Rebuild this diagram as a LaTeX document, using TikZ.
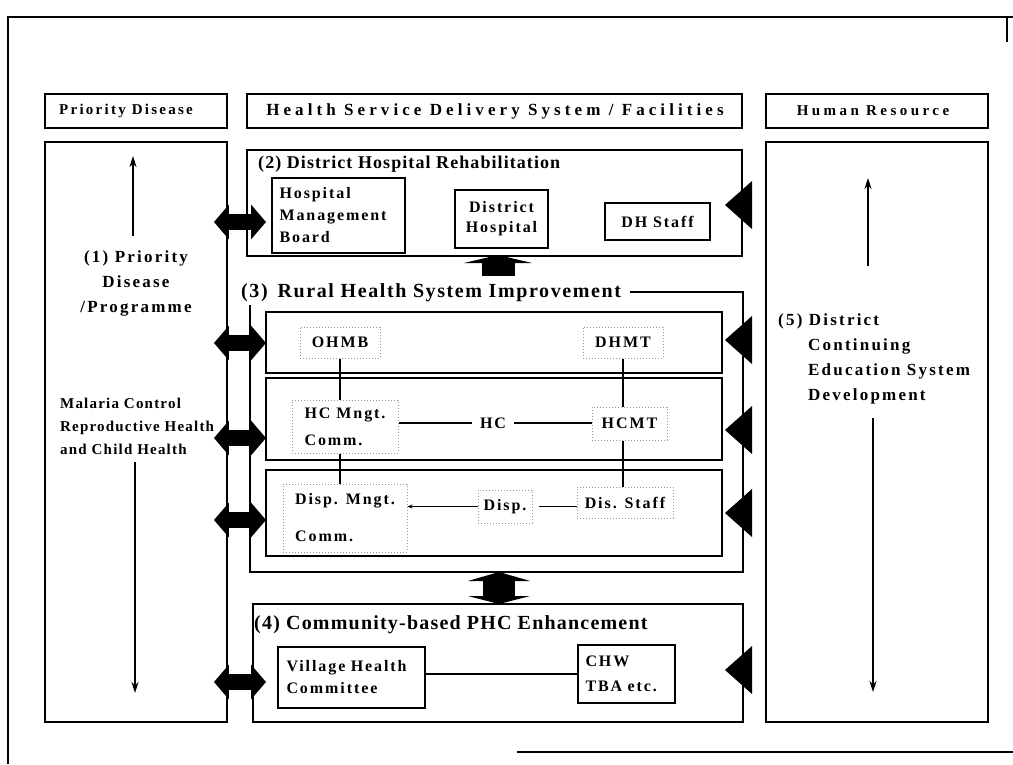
\documentclass[tikz,border=0pt]{standalone}
\usepackage{fontspec}
\setmainfont{Liberation Serif}
\newfontfamily\hdfont{Liberation Serif}[LetterSpace=15]
\newfontfamily\hdhr{Liberation Serif}[LetterSpace=23]
\newfontfamily\hdwide{Liberation Serif}[LetterSpace=24]
\newfontfamily\secfont{Liberation Serif}[LetterSpace=6]
\newfontfamily\secwide{Liberation Serif}[LetterSpace=8]
\newfontfamily\colfont{Liberation Serif}[LetterSpace=13]
\newfontfamily\boxfont{Liberation Serif}[LetterSpace=12]
\newfontfamily\notefont{Liberation Serif}[LetterSpace=8]
\usetikzlibrary{arrows.meta}
\begin{document}
\begin{tikzpicture}[x=1pt,y=-1pt,line join=miter,
  frame/.style={draw,line width=1.9pt,inner sep=0pt},
  hdr/.style={frame,minimum height=34pt},
  hdtext/.style={inner sep=0pt,font=\hdfont\bfseries\fontsize{15}{18}\selectfont},
  sec/.style={inner sep=0pt,anchor=west,font=\secfont\bfseries\fontsize{20}{24}\selectfont},
  coltext/.style={inner sep=0pt,font=\colfont\bfseries\fontsize{17}{25}\selectfont},
  unit/.style={frame,font=\boxfont\bfseries\fontsize{16}{22}\selectfont},
  soft/.style={draw=black!40,dotted,line width=1pt,inner sep=0pt,
    font=\boxfont\bfseries\fontsize{16}{22}\selectfont},
  plain/.style={inner sep=0pt,font=\boxfont\bfseries\fontsize{16}{22}\selectfont},
  link/.style={line width=1.4pt},
  dbl/.style={line width=16pt,{Triangle[length=15pt,width=34pt]}-{Triangle[length=15pt,width=34pt]}},
  thin/.style={line width=1.8pt,-{Stealth[length=11pt,width=7pt]}}]
\useasboundingbox (0,0) rectangle (1013,764);

% page frame
\coordinate (fa) at (8,764);
\coordinate (fb) at (8,17);
\coordinate (fc) at (1007,17);
\coordinate (fd) at (1007,42);
\coordinate (fe) at (517,752);
\coordinate (ff) at (1013,752);
\draw[line width=1.5pt] (fa) -- (fb) -- (1013,17);
\draw[line width=1.5pt] (fc) -- (fd);
\draw[line width=1.2pt] (fe) -- (ff);

% column headings
\node[hdr,minimum width=182pt] (hpd) at (136,111) {};
\node[hdtext] (hpdt) at (126,111) {Priority Disease};
\node[hdr,minimum width=495pt] (hhs) at (494.5,111) {};
\node[hdtext,font=\hdwide\bfseries\fontsize{17}{20}\selectfont] (hhst) at (495,111)
      {Health Service Delivery System / Facilities};
\node[hdr,minimum width=222pt] (hhr) at (877,111) {};
\node[hdtext,font=\hdhr\bfseries\fontsize{15}{18}\selectfont] (hhrt) at (873,111) {Human Resource};

% left column: priority disease
\node[frame,minimum width=182pt,minimum height=580pt] (lb) at (136,432) {};
\node[coltext,align=center] (pd) at (136,283) {(1) Priority\\Disease\\/Programme};
\node[inner sep=0pt,align=left,anchor=west,
      font=\notefont\bfseries\fontsize{15}{23}\selectfont] (mal) at (60,426)
      {Malaria Control\\Reproductive Health\\and Child Health};
\coordinate (lua) at (133,236);
\coordinate (lub) at (133,156);
\coordinate (lda) at (135,462);
\coordinate (ldb) at (135,693);
\draw[thin] (lua) -- (lub);
\draw[thin] (lda) -- (ldb);

% right column: human resource
\node[frame,minimum width=222pt,minimum height=580pt] (rb) at (877,432) {};
\node[coltext,align=left,anchor=north west] (hr) at (778,313)
  {(5) District\\\hspace*{30pt}Continuing\\\hspace*{30pt}Education System\\\hspace*{30pt}Development};
\coordinate (rua) at (868,266);
\coordinate (rub) at (868,178);
\coordinate (rda) at (873,418);
\coordinate (rdb) at (873,692);
\draw[thin] (rua) -- (rub);
\draw[thin] (rda) -- (rdb);

% (2) district hospital
\node[frame,minimum width=495pt,minimum height=106pt] (b2) at (494.5,203) {};
\node[sec,font=\secfont\bfseries\fontsize{18}{22}\selectfont] (l2) at (258,164)
  {(2) District Hospital Rehabilitation};
\node[unit,minimum width=133pt,minimum height=75pt,align=left,text width=118pt] (hmb)
  at (338.5,215.5) {Hospital\\Management\\Board};
\node[unit,minimum width=93pt,minimum height=58pt,align=center,font=\boxfont\bfseries\fontsize{16}{20}\selectfont] (dh)
  at (501.5,219) {District\\Hospital};
\node[unit,minimum width=105pt,minimum height=37pt] (dhs) at (657.5,221.5) {DH Staff};

% (3) rural health system
\coordinate (o3a) at (630,292);
\coordinate (o3b) at (743,292);
\coordinate (o3c) at (743,572);
\coordinate (o3d) at (250,572);
\coordinate (o3e) at (250,305);
\draw[line width=1.9pt] (o3a) -- (o3b) -- (o3c) -- (o3d) -- (o3e);
\node[sec,font=\secwide\bfseries\fontsize{20}{24}\selectfont] (l3) at (241,293) {(3)\, Rural Health System Improvement};
\node[frame,minimum width=456pt,minimum height=61pt] (r1) at (494,342.5) {};
\node[frame,minimum width=456pt,minimum height=82pt] (r2) at (494,419) {};
\node[frame,minimum width=456pt,minimum height=86pt] (r3) at (494,513) {};

\node[soft,minimum width=80pt,minimum height=31pt] (ohmb) at (340,342.5) {OHMB};
\node[soft,minimum width=80pt,minimum height=31pt] (dhmt) at (623,342.5) {DHMT};
\node[soft,minimum width=106pt,minimum height=53pt,align=left,
      font=\boxfont\bfseries\fontsize{16}{27}\selectfont] (hcm) at (345,426.5) {HC Mngt.\\Comm.};
\node[plain] (hc) at (493,423) {HC};
\node[soft,minimum width=75pt,minimum height=33pt] (hcmt) at (629.5,423.5) {HCMT};
\node[soft,minimum width=124pt,minimum height=68pt,align=left,
      font=\boxfont\bfseries\fontsize{16}{37}\selectfont] (dispm) at (345,518) {Disp. Mngt.\\Comm.};
\node[soft,minimum width=54pt,minimum height=33pt] (disp) at (505,506.5) {Disp.};
\node[soft,minimum width=96pt,minimum height=31pt] (diss) at (625,502.5) {Dis. Staff};

\draw[link] (ohmb.south) -- (ohmb.south |- hcm.north);
\draw[link] (ohmb.south |- hcm.south) -- (ohmb.south |- dispm.north);
\draw[link] (dhmt.south) -- (dhmt.south |- hcmt.north);
\draw[link] (dhmt.south |- hcmt.south) -- (dhmt.south |- diss.north);
\draw[link] (hcm.east |- hc.west) -- ([xshift=-8pt]hc.west);
\draw[link] ([xshift=8pt]hc.east) -- (hcmt.west |- hc.east);
\draw[link,-{Stealth[length=5pt,width=4pt]}] (disp.west) -- (disp.west -| dispm.east);
\draw[link] ([xshift=6pt]disp.east) -- (diss.west |- disp.east);

% (4) community-based PHC
\node[frame,minimum width=490pt,minimum height=118pt] (b4) at (498,663) {};
\node[sec] (l4) at (254,625) {(4) Community-based PHC Enhancement};
\node[unit,minimum width=147pt,minimum height=61pt,align=left,text width=130pt] (vhc)
  at (351.5,677.5) {Village Health\\Committee};
\node[unit,minimum width=97pt,minimum height=58pt,align=left,text width=82pt,
      font=\boxfont\bfseries\fontsize{16}{25}\selectfont] (chw) at (626.5,674) {CHW\\TBA etc.};
\draw[link] (chw.west) -- (chw.west -| vhc.east);

% block arrows between the service levels
\coordinate (ua) at (498,276);
\coordinate (ub) at (498,255);
\draw[line width=33pt,-{Triangle[length=8pt,width=68pt]}] (ua) -- (ub);
\coordinate (va) at (499,572);
\coordinate (vb) at (499,604);
\draw[line width=32pt,{Triangle[length=9pt,width=62pt]}-{Triangle[length=8pt,width=62pt]}] (va) -- (vb);

% links from the priority disease column
\foreach \yy in {222,343,438,520,682}
  \draw[dbl] ([xshift=-14pt]lb.east |- 0,\yy) -- (266,\yy);

% inputs from the human resource column
\foreach \yy in {205,340,430,513,670}
  \fill (725,\yy) -- (752,\yy-24) -- (752,\yy+24) -- cycle;
\end{tikzpicture}
\end{document}
